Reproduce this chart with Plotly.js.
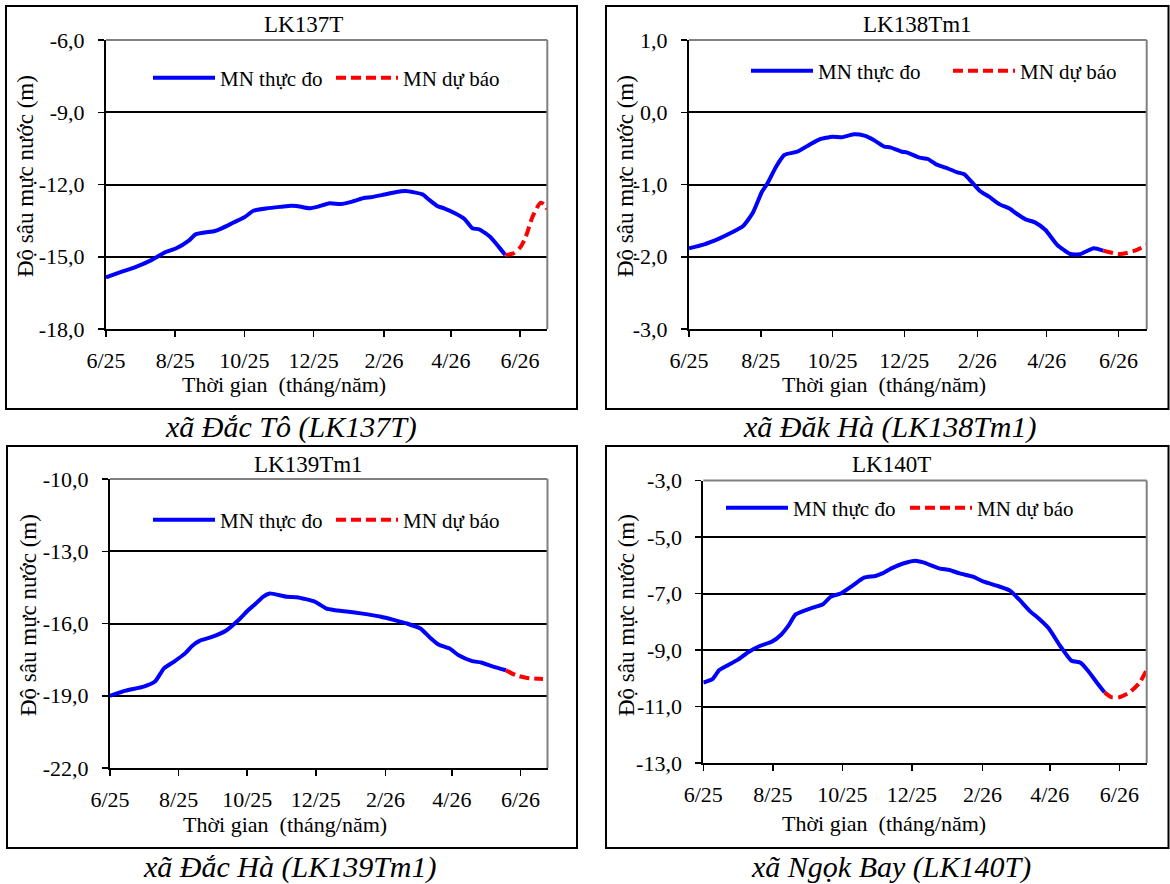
<!DOCTYPE html>
<html>
<head>
<meta charset="utf-8">
<script src="https://cdn.plot.ly/plotly-3.0.1.min.js"></script>
<style>
html,body{margin:0;padding:0;background:#fff;}
#chart{width:1170px;height:884px;}
</style>
</head>
<body>
<div id="chart"></div>
<script>
// ---------------- DATA ----------------
const xTickVals = ['2025-06-01','2025-08-01','2025-10-01','2025-12-01','2026-02-01','2026-04-01','2026-06-01'];
const xTickText = ['6/25','8/25','10/25','12/25','2/26','4/26','6/26'];
const seriesNames = ['MN thực đo','MN dự báo'];

const chartTitles = ['LK137T','LK138Tm1','LK139Tm1','LK140T'];
const captions = ['xã Đắc Tô (LK137T)','xã Đăk Hà (LK138Tm1)','xã Đắc Hà (LK139Tm1)','xã Ngọk Bay (LK140T)'];
const xAxisTitle = 'Thời gian\u00a0 (tháng/năm)';
const yAxisTitle = 'Độ sâu mực nước (m)';

// LK137T
const lk137ObsDates = ['2025-06-01','2025-06-15','2025-06-28','2025-07-11','2025-07-23','2025-08-02','2025-08-13','2025-08-19','2025-09-05','2025-09-11','2025-09-21','2025-10-01','2025-10-09','2025-10-21','2025-11-03','2025-11-11','2025-11-16','2025-11-27','2025-12-05','2025-12-15','2025-12-25','2026-01-04','2026-01-15','2026-01-20','2026-01-30','2026-02-10','2026-02-20','2026-03-07','2026-03-13','2026-03-20','2026-03-26','2026-04-05','2026-04-13','2026-04-20','2026-04-26','2026-05-06','2026-05-13','2026-05-19'];
const lk137ObsDepth = [-15.86,-15.62,-15.41,-15.14,-14.82,-14.65,-14.33,-14.07,-13.93,-13.82,-13.59,-13.36,-13.09,-12.99,-12.92,-12.88,-12.89,-12.99,-12.92,-12.78,-12.81,-12.71,-12.55,-12.53,-12.44,-12.33,-12.27,-12.41,-12.64,-12.89,-12.99,-13.20,-13.43,-13.82,-13.86,-14.19,-14.58,-14.93];
const lk137FcDates = ['2026-05-19','2026-05-26','2026-06-01','2026-06-06','2026-06-12','2026-06-19','2026-06-22','2026-06-25'];
const lk137FcDepth = [-14.93,-14.86,-14.62,-14.17,-13.34,-12.76,-12.81,-13.03];
const lk137YTicks = [-18,-15,-12,-9,-6];
const lk137YText = ['-18,0','-15,0','-12,0','-9,0','-6,0'];

// LK138Tm1
const lk138ObsDates = ['2025-06-01','2025-06-14','2025-06-27','2025-07-06','2025-07-17','2025-07-25','2025-08-02','2025-08-07','2025-08-14','2025-08-21','2025-09-01','2025-09-11','2025-09-20','2025-10-01','2025-10-09','2025-10-19','2025-10-28','2025-11-05','2025-11-14','2025-11-19','2025-11-29','2025-12-03','2025-12-14','2025-12-21','2025-12-28','2026-01-05','2026-01-15','2026-01-21','2026-01-27','2026-02-03','2026-02-11','2026-02-20','2026-02-28','2026-03-06','2026-03-14','2026-03-22','2026-03-31','2026-04-10','2026-04-21','2026-04-29','2026-05-11','2026-05-19'];
const lk138ObsDepth = [-1.883,-1.828,-1.745,-1.676,-1.574,-1.399,-1.10,-0.975,-0.754,-0.592,-0.546,-0.453,-0.375,-0.338,-0.347,-0.306,-0.324,-0.384,-0.476,-0.486,-0.546,-0.555,-0.629,-0.647,-0.721,-0.767,-0.831,-0.859,-0.961,-1.086,-1.169,-1.275,-1.330,-1.399,-1.482,-1.524,-1.630,-1.837,-1.962,-1.966,-1.883,-1.916];
const lk138FcDates = ['2026-05-19','2026-06-02','2026-06-15','2026-06-25'];
const lk138FcDepth = [-1.916,-1.962,-1.916,-1.837];
const lk138YTicks = [-3,-2,-1,0,1];
const lk138YText = ['-3,0','-2,0','-1,0','0,0','1,0'];

// LK139Tm1
const lk139ObsDates = ['2025-06-01','2025-06-15','2025-07-01','2025-07-11','2025-07-19','2025-07-28','2025-08-07','2025-08-13','2025-08-20','2025-08-30','2025-09-12','2025-09-25','2025-10-02','2025-10-08','2025-10-15','2025-10-21','2025-11-05','2025-11-14','2025-11-30','2025-12-10','2025-12-17','2025-12-30','2026-01-10','2026-01-28','2026-02-09','2026-02-20','2026-03-04','2026-03-12','2026-03-20','2026-03-30','2026-04-07','2026-04-19','2026-04-27','2026-05-07','2026-05-19'];
const lk139ObsDepth = [-19.0,-18.79,-18.62,-18.41,-17.86,-17.58,-17.23,-16.93,-16.71,-16.57,-16.30,-15.78,-15.44,-15.20,-14.89,-14.75,-14.89,-14.91,-15.09,-15.37,-15.44,-15.51,-15.58,-15.72,-15.86,-16.0,-16.21,-16.56,-16.87,-17.04,-17.32,-17.56,-17.62,-17.78,-17.94];
const lk139FcDates = ['2026-05-19','2026-05-28','2026-06-07','2026-06-21'];
const lk139FcDepth = [-17.94,-18.15,-18.26,-18.30];
const lk139YTicks = [-22,-19,-16,-13,-10];
const lk139YText = ['-22,0','-19,0','-16,0','-13,0','-10,0'];

// LK140T
const lk140ObsDates = ['2025-06-01','2025-06-09','2025-06-15','2025-06-23','2025-07-01','2025-07-11','2025-07-21','2025-07-31','2025-08-08','2025-08-15','2025-08-21','2025-09-05','2025-09-14','2025-09-21','2025-09-30','2025-10-10','2025-10-20','2025-10-30','2025-11-05','2025-11-13','2025-11-24','2025-12-04','2025-12-11','2025-12-25','2026-01-03','2026-01-12','2026-01-24','2026-02-02','2026-02-14','2026-02-25','2026-03-05','2026-03-15','2026-03-23','2026-03-31','2026-04-10','2026-04-20','2026-04-28','2026-05-04','2026-05-12','2026-05-19'];
const lk140ObsDepth = [-10.15,-10.03,-9.71,-9.53,-9.35,-9.06,-8.85,-8.71,-8.47,-8.12,-7.74,-7.50,-7.38,-7.11,-6.99,-6.72,-6.44,-6.38,-6.29,-6.11,-5.93,-5.84,-5.90,-6.11,-6.17,-6.29,-6.41,-6.58,-6.73,-6.90,-7.21,-7.64,-7.91,-8.23,-8.85,-9.38,-9.45,-9.71,-10.14,-10.50];
const lk140FcDates = ['2026-05-19','2026-05-25','2026-06-01','2026-06-10','2026-06-19','2026-06-25'];
const lk140FcDepth = [-10.50,-10.67,-10.67,-10.50,-10.14,-9.71];
const lk140YTicks = [-13,-11,-9,-7,-5,-3];
const lk140YText = ['-13,0','-11,0','-9,0','-7,0','-5,0','-3,0'];

// ---------------- LAYOUT ----------------
const W = 1170, H = 884;
const FONT = 'Liberation Serif, Times New Roman, serif';
const fx = px => px / W;
const fy = py => 1 - py / H;
const xRange = ['2025-06-01','2026-06-25'];

const panels = [
  {obsX: lk137ObsDates, obsY: lk137ObsDepth, fcX: lk137FcDates, fcY: lk137FcDepth, yt: lk137YTicks, ytt: lk137YText,
   plot: [106, 547.3, 40, 329], box: [6, 577, 6, 409], title: [303, 24], legend: [148, 78], entry: 106,
   xt: [284, 384], ytitle: [26, 176], cap: [291, 427]},
  {obsX: lk138ObsDates, obsY: lk138ObsDepth, fcX: lk138FcDates, fcY: lk138FcDepth, yt: lk138YTicks, ytt: lk138YText,
   plot: [689, 1146.7, 40, 329], box: [606, 1168.5, 6, 409], title: [917, 24], legend: [746, 71], entry: 125,
   xt: [884, 384], ytitle: [626, 176], cap: [890, 427]},
  {obsX: lk139ObsDates, obsY: lk139ObsDepth, fcX: lk139FcDates, fcY: lk139FcDepth, yt: lk139YTicks, ytt: lk139YText,
   plot: [110, 547.5, 479, 768], box: [7, 577, 446, 848], title: [308, 464], legend: [148, 520], entry: 106,
   xt: [285, 824], ytitle: [28, 615], cap: [290, 867]},
  {obsX: lk140ObsDates, obsY: lk140ObsDepth, fcX: lk140FcDates, fcY: lk140FcDepth, yt: lk140YTicks, ytt: lk140YText,
   plot: [703.3, 1146.7, 480.5, 763], box: [606, 1168.5, 446, 848], title: [891, 464], legend: [721, 508], entry: 107,
   xt: [884, 823], ytitle: [626, 615], cap: [891, 867]}
];

const traces = [];
const layout = {
  width: W, height: H,
  margin: {l: 0, r: 0, t: 0, b: 0, pad: 0, autoexpand: false},
  paper_bgcolor: '#fff', plot_bgcolor: '#fff',
  font: {family: FONT, color: '#000', size: 20},
  showlegend: true,
  hovermode: false,
  shapes: [], annotations: []
};

panels.forEach((p, i) => {
  const n = i === 0 ? '' : String(i + 1);
  const xa = 'x' + n, ya = 'y' + n;
  const lg = 'legend' + n;
  traces.push({
    type: 'scatter', mode: 'lines', x: p.obsX, y: p.obsY, name: seriesNames[0],
    xaxis: xa, yaxis: ya, legend: lg,
    line: {color: '#0000FF', width: 4, shape: 'spline', smoothing: 0.5}
  });
  traces.push({
    type: 'scatter', mode: 'lines', x: p.fcX, y: p.fcY, name: seriesNames[1],
    xaxis: xa, yaxis: ya, legend: lg,
    line: {color: '#FF0000', width: 4, dash: '10px,5px', shape: 'spline', smoothing: 0.7}
  });
  layout['xaxis' + n] = {
    type: 'date', domain: [fx(p.plot[0]), fx(p.plot[1])], range: xRange,
    anchor: ya, tickmode: 'array', tickvals: xTickVals, ticktext: xTickText,
    showline: true, linecolor: '#000', linewidth: 2,
    ticks: 'outside', ticklen: 6, tickwidth: 1.5, tickcolor: '#000',
    showgrid: false, zeroline: false, ticklabelstandoff: 5,
    tickfont: {family: FONT, size: 22, color: '#000'}, fixedrange: true
  };
  layout['yaxis' + n] = {
    domain: [fy(p.plot[3]), fy(p.plot[2])], range: [p.yt[0], p.yt[p.yt.length - 1]],
    anchor: xa, tickmode: 'array', tickvals: p.yt, ticktext: p.ytt,
    showline: true, linecolor: '#000', linewidth: 2,
    ticks: 'outside', ticklen: 6, tickwidth: 1.5, tickcolor: '#000',
    showgrid: true, gridcolor: '#000', gridwidth: 2, zeroline: false,
    ticklabelstandoff: 9,
    tickfont: {family: FONT, size: 22, color: '#000'}, fixedrange: true
  };
  layout[lg] = {
    orientation: 'h', x: fx(p.legend[0]), y: fy(p.legend[1]), xanchor: 'left', yanchor: 'middle',
    xref: 'paper', yref: 'paper',
    itemwidth: 62, entrywidth: p.entry, entrywidthmode: 'pixels',
    bgcolor: 'rgba(0,0,0,0)', borderwidth: 0,
    font: {family: FONT, size: 21, color: '#000'}, itemclick: false, itemdoubleclick: false
  };
  // plot-area border (top & right, gray)
  layout.shapes.push({type: 'line', xref: xa + ' domain', yref: ya + ' domain', x0: 0, x1: 1, y0: 1, y1: 1,
    line: {color: '#808080', width: 2}, layer: 'above'});
  layout.shapes.push({type: 'line', xref: xa + ' domain', yref: ya + ' domain', x0: 1, x1: 1, y0: 0, y1: 1,
    line: {color: '#808080', width: 2}, layer: 'above'});
  // outer frame
  layout.shapes.push({type: 'rect', xref: 'paper', yref: 'paper',
    x0: fx(p.box[0]), x1: fx(p.box[1]), y0: fy(p.box[3]), y1: fy(p.box[2]),
    line: {color: '#000', width: 2}, fillcolor: 'rgba(0,0,0,0)', layer: 'above'});
  // chart title
  layout.annotations.push({text: chartTitles[i], xref: 'paper', yref: 'paper', x: fx(p.title[0]), y: fy(p.title[1]),
    xanchor: 'center', yanchor: 'middle', showarrow: false, font: {family: FONT, size: 23, color: '#000'}});
  // x-axis title
  layout.annotations.push({text: xAxisTitle, xref: 'paper', yref: 'paper', x: fx(p.xt[0]), y: fy(p.xt[1]),
    xanchor: 'center', yanchor: 'middle', showarrow: false, font: {family: FONT, size: 22, color: '#000'}});
  // y-axis title
  layout.annotations.push({text: yAxisTitle, xref: 'paper', yref: 'paper', x: fx(p.ytitle[0]), y: fy(p.ytitle[1]),
    xanchor: 'center', yanchor: 'middle', textangle: -90, showarrow: false, font: {family: FONT, size: 23, color: '#000'}});
  // caption
  layout.annotations.push({text: '<i>' + captions[i] + '</i>', xref: 'paper', yref: 'paper', x: fx(p.cap[0]), y: fy(p.cap[1]),
    xanchor: 'center', yanchor: 'middle', showarrow: false, font: {family: FONT, size: 30, color: '#000'}});
});

Plotly.newPlot('chart', traces, layout, {staticPlot: true, displayModeBar: false});
</script>
</body>
</html>
